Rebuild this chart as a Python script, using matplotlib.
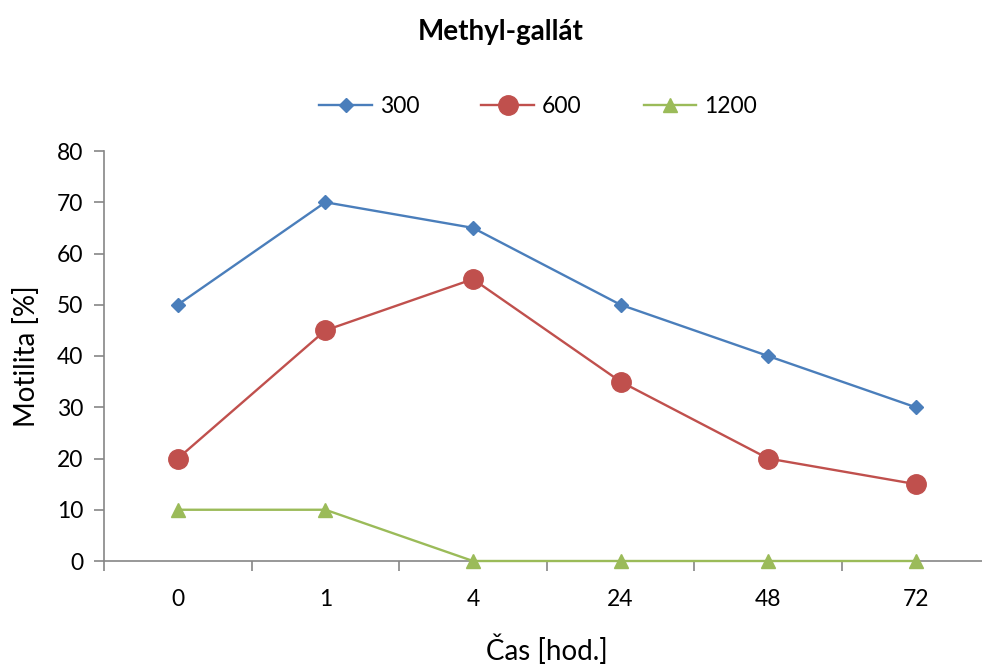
import matplotlib.pyplot as plt
import numpy as np

plt.rcParams['font.family'] = ['Lato', 'DejaVu Sans']

cas = ['0', '1', '4', '24', '48', '72']
s300 = [50, 70, 65, 50, 40, 30]
s600 = [20, 45, 55, 35, 20, 15]
s1200 = [10, 10, 0, 0, 0, 0]

fig = plt.figure(figsize=(9.82, 6.64), dpi=100)
ax = fig.add_axes([104/982, 1-561/664, 885.5/982, 410/664])
x = np.arange(len(cas))

ax.plot(x, s300, color='#4A7EBB', lw=1.7, marker='D', ms=7, label='300', clip_on=False)
ax.plot(x, s600, color='#C0504D', lw=1.7, marker='o', ms=14, label='600', clip_on=False)
ax.plot(x, s1200, color='#9BBB59', lw=1.7, marker='^', ms=10, label='1200', clip_on=False, zorder=5)

ax.set_xlim(-0.5, 5.5)
ax.set_ylim(0, 80)
ax.set_yticks(range(0, 81, 10))
ax.set_xticks(x)
ax.set_xticklabels(cas)
ax.set_xticks(np.arange(-0.5, 5.6, 1), minor=True)
for s in ['top', 'right']:
    ax.spines[s].set_visible(False)
for s in ['left', 'bottom']:
    ax.spines[s].set_color('#868686')
    ax.spines[s].set_linewidth(1.2)
ax.tick_params(axis='x', which='major', length=0, pad=20, labelsize=16.5)
ax.tick_params(axis='x', which='minor', length=7, color='#868686', width=1.2)
ax.tick_params(axis='y', length=7, color='#868686', width=1.2, labelsize=16.5, pad=8)

ax.set_xlabel('Čas [hod.]', fontsize=20, labelpad=18)
ax.set_ylabel('Motilita [%]', fontsize=20, labelpad=12)
fig.text(0.51, 0.952, 'Methyl-gallát', ha='center', va='center', fontsize=20, fontweight='bold')

fig.legend(loc='center', bbox_to_anchor=(0.548, 0.84), ncol=3, frameon=False,
           fontsize=16.5, handlelength=2.3, columnspacing=2.7, handletextpad=0.35)

fig.savefig('out.png', dpi=100)
